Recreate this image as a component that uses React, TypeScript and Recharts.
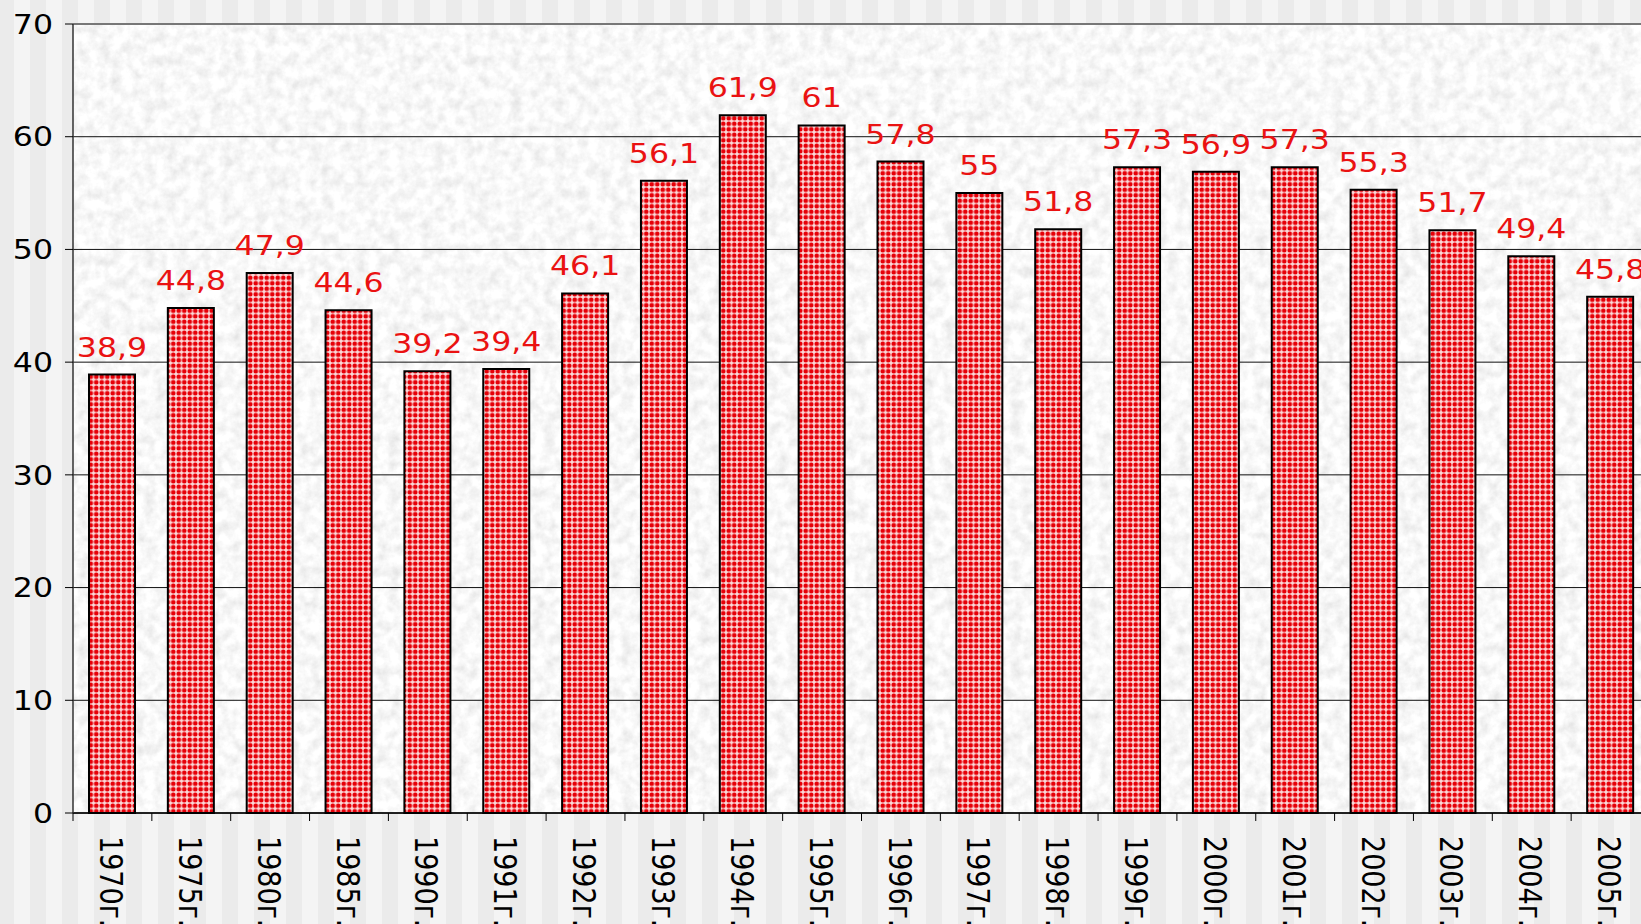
import React from 'react';
import { BarChart, Bar, XAxis, YAxis, CartesianGrid, LabelList, ReferenceLine } from 'recharts';

const years = ['1970г.', '1975г.', '1980г.', '1985г.', '1990г.', '1991г.', '1992г.', '1993г.', '1994г.', '1995г.', '1996г.', '1997г.', '1998г.', '1999г.', '2000г.', '2001г.', '2002г.', '2003г.', '2004г.', '2005г.'];
const values = [38.9, 44.8, 47.9, 44.6, 39.2, 39.4, 46.1, 56.1, 61.9, 61, 57.8, 55, 51.8, 57.3, 56.9, 57.3, 55.3, 51.7, 49.4, 45.8];
const yTicks = [0, 10, 20, 30, 40, 50, 60, 70];

const data = years.map((year, i) => ({ year, value: values[i] }));

const SX = 1.17;
const FONT = '"DejaVu Sans", Verdana, sans-serif';
const LABEL_RED = '#ea1212';

const fmt = (v: number) => String(v).replace('.', ',');

const YTick = (props: any) => {
  const { x, y, payload } = props;
  return (
    <g transform={`translate(${x},${y}) scale(${SX},1)`}>
      <text x={0} y={0} dy="0.36em" textAnchor="end" fontFamily={FONT} fontSize={27} fill="#000">
        {payload.value}
      </text>
    </g>
  );
};

const XTick = (props: any) => {
  const { x, y, payload } = props;
  const half = payload && payload.offset ? payload.offset : 39.4;
  const axisY = y - 23;
  return (
    <g>
      <line x1={x - half} x2={x - half} y1={axisY} y2={axisY + 8} stroke="#000" strokeWidth={1} />
      <g transform={`translate(${x - 1},${y}) scale(${SX},1) rotate(90)`}>
        <text x={0} y={0} dy="0.36em" textAnchor="start" fontFamily={FONT} fontSize={27} fill="#000">
          {payload.value}
        </text>
      </g>
    </g>
  );
};

const renderLabel = (props: any) => {
  const { x, y, width, value } = props;
  const cx = x + width / 2;
  return (
    <g transform={`translate(${cx},${y - 18}) scale(${SX},1)`}>
      <text x={0} y={0} textAnchor="middle" fontFamily={FONT} fontSize={27} fill={LABEL_RED}>
        {fmt(value)}
      </text>
    </g>
  );
};

export default function App() {
  return (
    <div
      style={{
        position: 'absolute',
        left: 0,
        top: 0,
        width: 1641,
        height: 924,
        overflow: 'hidden',
        backgroundImage: 'repeating-linear-gradient(to right, #ebebeb 0px, #ebebeb 16px, #f4f4f4 16px, #f4f4f4 32px)',
        backgroundPosition: '-2px 0',
      }}
    >
      <BarChart
        width={1660}
        height={924}
        data={data}
        margin={{ top: 24, right: 10, left: 0, bottom: 0 }}
        barSize={46}
      >
        <defs>
          <filter id="graniteNoise" x="0" y="0" width="100%" height="100%">
            <feTurbulence type="fractalNoise" baseFrequency="0.09" numOctaves="4" seed="4" result="t" />
            <feColorMatrix
              in="t"
              type="matrix"
              values="0.38 0 0 0 0.75  0.38 0 0 0 0.75  0.38 0 0 0 0.75  0 0 0 0 1"
            />
          </filter>
          <pattern id="granite" patternUnits="userSpaceOnUse" width={1700} height={924}>
            <rect x={0} y={0} width={1700} height={924} fill="#ececec" filter="url(#graniteNoise)" />
          </pattern>
          <pattern id="redDots" patternUnits="userSpaceOnUse" width={5.5} height={5.5}>
            <rect x={0} y={0} width={5.5} height={5.5} fill="#fbdada" />
            <circle cx={2.75} cy={2.75} r={2.3} fill="#e60008" />
          </pattern>
        </defs>
        <CartesianGrid vertical={false} stroke="#111" strokeWidth={1} fill="url(#granite)" fillOpacity={1} />
        <ReferenceLine y={70} stroke="#777" strokeWidth={2} />
        <XAxis
          dataKey="year"
          height={111}
          interval={0}
          tickLine={false}
          tickSize={8}
          tickMargin={15}
          axisLine={{ stroke: '#000', strokeWidth: 1.5 }}
          tick={<XTick />}
        />
        <YAxis
          width={73}
          domain={[0, 70]}
          ticks={yTicks}
          interval={0}
          tickSize={8}
          tickMargin={12}
          axisLine={{ stroke: '#333', strokeWidth: 1.5 }}
          tickLine={{ stroke: '#000' }}
          tick={<YTick />}
        />
        <Bar dataKey="value" fill="url(#redDots)" stroke="#000" strokeWidth={2} isAnimationActive={false}>
          <LabelList dataKey="value" content={renderLabel} />
        </Bar>
      </BarChart>
    </div>
  );
}
